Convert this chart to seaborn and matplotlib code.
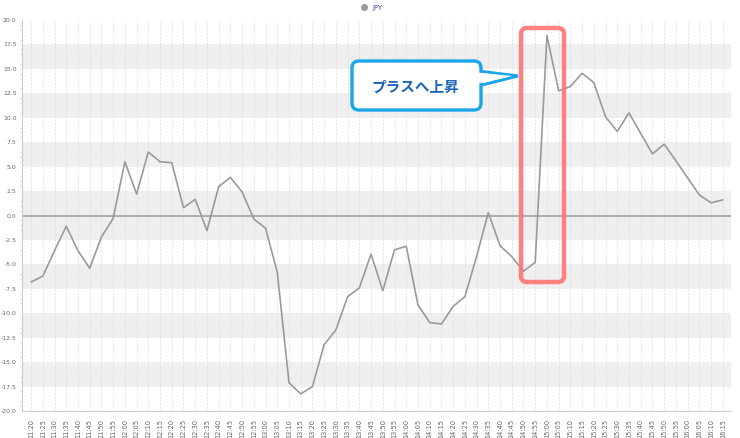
import matplotlib
matplotlib.use("Agg")
import matplotlib.pyplot as plt
import matplotlib.patches as mpatches
from matplotlib.transforms import IdentityTransform
from matplotlib.lines import Line2D
from matplotlib.ticker import MultipleLocator
import seaborn as sns
import pandas as pd

# ---- data ----
times = [f"{h}:{m:02d}" for h, m in
         [(11, 20), (11, 25), (11, 30), (11, 35), (11, 40), (11, 45), (11, 50), (11, 55),
          (12, 0), (12, 5), (12, 10), (12, 15), (12, 20), (12, 25), (12, 30), (12, 35),
          (12, 40), (12, 45), (12, 50), (12, 55), (13, 0), (13, 5), (13, 10), (13, 15),
          (13, 20), (13, 25), (13, 30), (13, 35), (13, 40), (13, 45), (13, 50), (13, 55),
          (14, 0), (14, 5), (14, 10), (14, 15), (14, 20), (14, 25), (14, 30), (14, 35),
          (14, 40), (14, 45), (14, 50), (14, 55), (15, 0), (15, 5), (15, 10), (15, 15),
          (15, 20), (15, 25), (15, 30), (15, 35), (15, 40), (15, 45), (15, 50), (15, 55),
          (16, 0), (16, 5), (16, 10), (16, 15)]]
jpy = [-6.8, -6.2, -3.6, -1.1, -3.6, -5.4, -2.2, -0.3, 5.5, 2.2,
       6.5, 5.5, 5.4, 0.8, 1.65, -1.55, 2.95, 3.9, 2.4, -0.35,
       -1.3, -5.8, -17.1, -18.25, -17.5, -13.2, -11.7, -8.3, -7.4, -3.95,
       -7.7, -3.5, -3.15, -9.15, -10.95, -11.1, -9.3, -8.3, -4.2, 0.3,
       -3.1, -4.2, -5.7, -4.8, 18.4, 12.75, 13.2, 14.55, 13.6, 10.1,
       8.6, 10.5, 8.4, 6.3, 7.3, 5.6, 3.85, 2.1, 1.3, 1.6]
series_name = "JPY"
annotation_text = "プラスへ上昇"

df = pd.DataFrame({"time": times, "value": jpy})

sns.set_theme(style="white")
plt.rcParams["font.family"] = ["DejaVu Sans"]

W, H = 740, 438
fig = plt.figure(figsize=(W / 100, H / 100), dpi=100)
ax = fig.add_axes([21.7 / W, 1 - 411 / H, (731 - 21.7) / W, (411 - 20) / H])

# alternating bands, symmetric around 0
for lo, hi in [(15, 17.5), (10, 12.5), (5, 7.5), (0, 2.5),
               (-2.5, 0), (-7.5, -5), (-12.5, -10), (-17.5, -15)]:
    ax.axhspan(lo, hi, color="#efefef", lw=0, zorder=0)

n = len(times)
for i in range(n):
    ax.axvline(i, color="#dcdcdc", lw=0.6, ls=(0, (2, 2)), zorder=0.5)

ax.axhline(0, color="#a8a8a8", lw=1.3, zorder=1)

sns.lineplot(data=df, x="time", y="value", ax=ax, color="#9a9a9a",
             lw=1.2, sort=False, zorder=3, legend=False)

ax.set_xlim(-0.8, n - 1 + 0.7)
ax.set_ylim(-20, 20)
ax.yaxis.set_major_locator(MultipleLocator(2.5))
ax.yaxis.set_minor_locator(MultipleLocator(0.5))
ax.set_yticklabels([f"{v:.1f}" for v in ax.get_yticks()])
ax.set_xticks(range(n))
ax.set_xticklabels(times, rotation=90)
ax.tick_params(axis="x", labelsize=4.8, colors="#666666", length=3, width=0.5, pad=3)
ax.tick_params(axis="y", which="major", labelsize=4.4, colors="#666666", length=2.5, width=0.5, pad=1.2)
ax.tick_params(axis="y", which="minor", length=1.5, width=0.4, colors="#bbbbbb", left=True)
ax.set_xlabel("")
ax.set_ylabel("")
for s in ["top", "right"]:
    ax.spines[s].set_visible(False)
for s in ["left", "bottom"]:
    ax.spines[s].set_color("#cccccc")
    ax.spines[s].set_linewidth(0.8)

# legend
handle = Line2D([], [], marker="o", color="none", markerfacecolor="#999999",
                markeredgecolor="#999999", markersize=4)
leg = fig.legend([handle], [series_name], loc="upper center",
                 bbox_to_anchor=(0.5, 1.0), frameon=False, fontsize=5,
                 handletextpad=0.2, borderaxespad=0.3)
for t in leg.get_texts():
    t.set_color("#4040a0")

# annotation shapes in pixel coordinates
tr = IdentityTransform()
def P(x, y):
    return (x, H - y)

red = mpatches.FancyBboxPatch(P(521, 282), 564 - 521, 282 - 28,
                              boxstyle="round,pad=0,rounding_size=6",
                              fc="none", ec="#ff7373", lw=3.2, transform=tr,
                              zorder=10, alpha=0.9)
fig.patches.append(red)

blue = "#1aa6e8"
tri = mpatches.Polygon([P(470, 70), P(518, 76), P(478, 86)], closed=True,
                       fc="white", ec=blue, lw=2.2, transform=tr, zorder=11,
                       joinstyle="miter")
fig.patches.append(tri)
box = mpatches.FancyBboxPatch(P(352, 110), 481 - 352, 110 - 61,
                              boxstyle="round,pad=0,rounding_size=7",
                              fc="white", ec=blue, lw=2.4, transform=tr, zorder=12)
fig.patches.append(box)
cover = mpatches.Polygon([P(472, 72), P(512, 76), P(476, 84)], closed=True,
                         fc="white", ec="none", transform=tr, zorder=13)
fig.patches.append(cover)

fig.text(415 / W, 1 - 87 / H, annotation_text, ha="center", va="center",
         fontsize=10.5, fontweight="bold", color="#1a63b8",
         family=["Noto Sans CJK JP", "DejaVu Sans"], zorder=14)

fig.savefig("out.png", dpi=100)
